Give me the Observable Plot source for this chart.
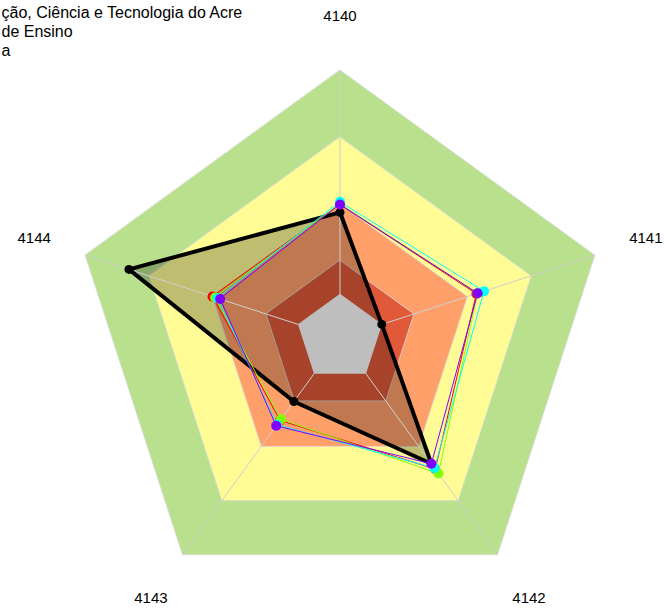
<!DOCTYPE html>
<html>
<head>
<meta charset="utf-8">
<script src="https://cdn.jsdelivr.net/npm/d3@7"></script>
<script src="https://cdn.jsdelivr.net/npm/@observablehq/plot@0.6"></script>
<style>
  html, body { margin: 0; padding: 0; background: #fff; }
  #chart { width: 664px; height: 610px; overflow: hidden; }
  svg { font-family: "Liberation Sans", Arial, sans-serif; }
</style>
</head>
<body>
<div id="chart"></div>
<script>
// Axis categories (clockwise from top)
const axes = ["4140", "4141", "4142", "4143", "4144"];

// Background bands, as fractions of the outer radius
const bandLevels = [1.0, 0.75, 0.5, 0.29];
const bandColors = ["#B9E08C", "#FFFC96", "#FFA06A", "#E05A3A"];
const centerLevel = 0.165;
const centerColor = "#BEBEBE";

// Series values (fraction of outer radius) per axis
const seriesBlack  = [0.469, 0.164, 0.58,  0.293, 0.828];
const seriesRed    = [0.498, 0.535, 0.605, 0.38,  0.50];
const seriesGreen  = [0.50,  0.54,  0.625, 0.375, 0.49];
const seriesCyan   = [0.508, 0.565, 0.60,  0.40,  0.48];
const seriesPurple = [0.498, 0.54,  0.58,  0.405, 0.47];
const coloredSeries = [seriesRed, seriesGreen, seriesCyan, seriesPurple];
const coloredNames = ["Série 1", "Série 2", "Série 3", "Série 4"];
const coloredColors = ["#FF0000", "#80FF00", "#00FFFF", "#8000FF"];

// Title lines (only the visible part of the reference's title)
const titleLines = [
  "ção, Ciência e Tecnologia do Acre",
  "de Ensino",
  "a"
];

const n = axes.length;
const ang = i => Math.PI / 2 - i * 2 * Math.PI / n;
const pt = (r, i) => ({x: r * Math.cos(ang(i)), y: r * Math.sin(ang(i))});

const bandData = bandLevels.flatMap((lv, k) =>
  axes.map((a, i) => ({...pt(lv, i), band: k, color: bandColors[k]})));
const centerData = axes.map((a, i) => pt(centerLevel, i));
const spokes = axes.map((a, i) => ({...pt(1, i), axis: a}));
const labels = axes.map((a, i) => ({...pt(1.2, i), axis: a}));
const blackData = seriesBlack.map((v, i) => pt(v, i));
const colData = coloredSeries.flatMap((s, k) =>
  s.map((v, i) => ({...pt(v, i), name: coloredNames[k], color: coloredColors[k], k})));

const marks = [];
// bands, outer first
bandLevels.forEach((lv, k) => {
  marks.push(Plot.line(bandData.filter(d => d.band === k), {
    x: "x", y: "y", curve: "linear-closed",
    fill: bandColors[k], stroke: "#dcdcdc", strokeWidth: 0.8
  }));
});
// black series fill
marks.push(Plot.line(blackData, {x: "x", y: "y", curve: "linear-closed",
  fill: "#000", fillOpacity: 0.25, stroke: "none"}));
// spokes
marks.push(Plot.link(spokes, {x1: () => 0, y1: () => 0, x2: "x", y2: "y",
  stroke: "#cfcfcf", strokeWidth: 1}));
// gray center
marks.push(Plot.line(centerData, {x: "x", y: "y", curve: "linear-closed",
  fill: centerColor, stroke: "none"}));
// black series line and points
marks.push(Plot.line(blackData, {x: "x", y: "y", curve: "linear-closed",
  stroke: "#000", strokeWidth: 4, strokeLinejoin: "round"}));
marks.push(Plot.dot(blackData, {x: "x", y: "y", r: 4.5, fill: "#000", stroke: "none"}));
// colored series
coloredSeries.forEach((s, k) => {
  const d = colData.filter(e => e.k === k);
  marks.push(Plot.line(d, {x: "x", y: "y", curve: "linear-closed",
    stroke: coloredColors[k], strokeWidth: 1}));
  marks.push(Plot.dot(d, {x: "x", y: "y", r: 5, fill: coloredColors[k], stroke: "none"}));
});
// axis labels
marks.push(Plot.text(labels, {x: "x", y: "y", text: "axis", fontSize: 15,
  fill: "#000", textAnchor: "middle", lineAnchor: "middle"}));
// title lines
titleLines.forEach((t, i) => {
  marks.push(Plot.text([t], {frameAnchor: "top-left", text: d => d,
    dx: 1, dy: 17 + 19 * i, textAnchor: "start", lineAnchor: "bottom",
    fontSize: 16, fill: "#000"}));
});

const chart = Plot.plot({
  width: 664, height: 610, margin: 0,
  x: {domain: [-1, 1], range: [71.5, 607.5], axis: null},
  y: {domain: [-1, 1], range: [605.5, 69.5], axis: null},
  style: {fontFamily: "'Liberation Sans', Arial, sans-serif", background: "#fff", overflow: "hidden"},
  marks
});
document.getElementById("chart").appendChild(chart);
</script>
</body>
</html>
